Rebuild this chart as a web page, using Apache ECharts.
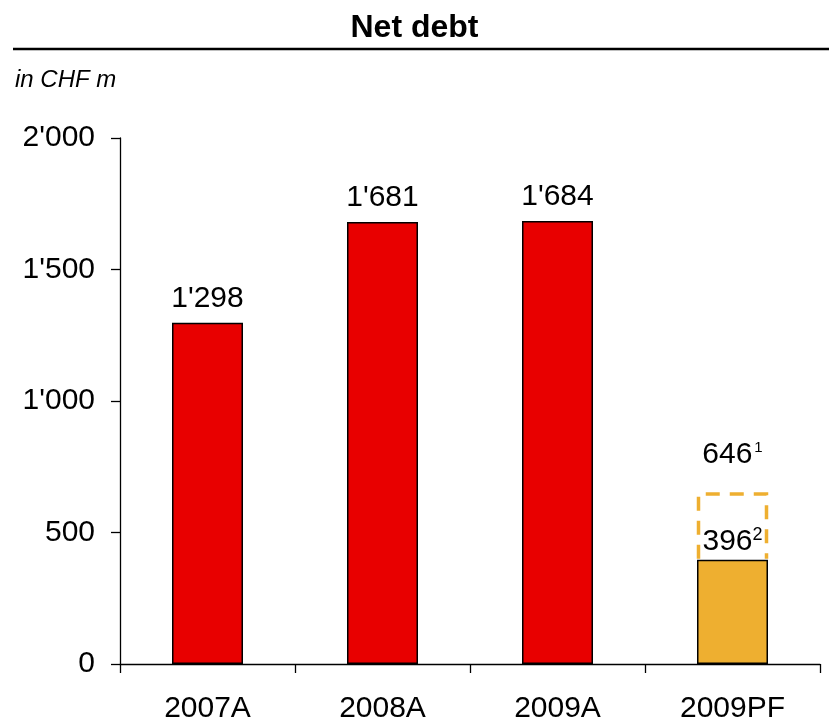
<!DOCTYPE html>
<html>
<head>
<meta charset="utf-8">
<script src="https://cdn.jsdelivr.net/npm/echarts@6/dist/echarts.min.js"></script>
<style>
  html, body { margin: 0; padding: 0; background: #fff; }
  #chart { width: 829px; height: 724px; }
</style>
</head>
<body>
<div id="chart"></div>
<script>
// Net debt, in CHF m
const categories = ['2007A', '2008A', '2009A', '2009PF'];
const netDebt = [1298, 1681, 1684, 396];
const proFormaTotal = [null, null, null, 646];
const labelNotes = ['', '', '', '2'];
const proFormaNote = '1';
const yTicks = [0, 500, 1000, 1500, 2000];

const RED = '#E80000';
const ORANGE = '#EEAF30';
const FONT = '"Liberation Sans", Arial, sans-serif';

function fmt(v) {
  return String(v).replace(/\B(?=(\d{3})+(?!\d))/g, "'");
}

const chart = echarts.init(document.getElementById('chart'), null, { renderer: 'canvas' });

// upper segment stacked on the 2009PF bar, reaching the pro-forma total
const dashedSegment = proFormaTotal.map((t, i) => (t == null ? '-' : t - netDebt[i]));
// [category index, base, total] for the dashed open outline
const outlineData = proFormaTotal
  .map((t, i) => (t == null ? null : [i, netDebt[i], t]))
  .filter(Boolean);

const BAR_W = 71;

chart.setOption({
  animation: false,
  textStyle: { fontFamily: FONT, color: '#000' },
  grid: { left: 120, right: 9, top: 138, bottom: 56, containLabel: false },
  graphic: [
    {
      type: 'text', left: 'center', top: 12,
      style: { text: 'Net debt', font: 'bold 32px ' + FONT, fill: '#000' }
    },
    {
      type: 'line', shape: { x1: 13, y1: 49, x2: 829, y2: 49 },
      style: { stroke: '#000', lineWidth: 2.5 }
    },
    {
      type: 'text', left: 15, top: 68,
      style: { text: 'in CHF m', font: 'italic 24px ' + FONT, fill: '#000' }
    }
  ],
  xAxis: {
    type: 'category',
    data: categories,
    boundaryGap: true,
    axisLine: { lineStyle: { color: '#000', width: 1.3 } },
    axisTick: { show: true, length: 9, lineStyle: { color: '#000', width: 1.3 } },
    axisLabel: { color: '#000', fontSize: 30, fontFamily: FONT, margin: 30 }
  },
  yAxis: {
    type: 'value',
    min: yTicks[0],
    max: yTicks[yTicks.length - 1],
    interval: 500,
    axisLine: { show: true, lineStyle: { color: '#000', width: 1.3 } },
    axisTick: { show: true, length: 9, lineStyle: { color: '#000', width: 1.3 } },
    splitLine: { show: false },
    axisLabel: { color: '#000', fontSize: 30, fontFamily: FONT, margin: 25, formatter: v => fmt(v) }
  },
  series: [
    {
      type: 'bar',
      stack: 'debt',
      barWidth: BAR_W,
      data: netDebt.map((v, i) => ({
        value: v,
        itemStyle: { color: i === 3 ? ORANGE : RED, borderColor: '#000', borderWidth: 1.5 },
        label: i === 3 ? { distance: 2 } : {}
      })),
      label: {
        show: true,
        position: 'top',
        distance: 9,
        fontFamily: FONT,
        formatter: p => {
          const note = labelNotes[p.dataIndex];
          return note ? '{v|' + fmt(p.value) + '}{s|' + note + '}' : '{v|' + fmt(p.value) + '}';
        },
        rich: {
          v: { fontSize: 30, color: '#000', fontFamily: FONT },
          s: { fontSize: 18, color: '#000', fontFamily: FONT, verticalAlign: 'top', padding: [0, 0, 14, 0] }
        }
      },
      z: 3
    },
    {
      // invisible stacked segment carrying the pro-forma total label
      type: 'bar',
      stack: 'debt',
      barWidth: BAR_W,
      data: dashedSegment,
      itemStyle: { color: 'rgba(0,0,0,0)' },
      label: {
        show: true,
        position: 'top',
        distance: 24,
        formatter: p => '{v|' + fmt(proFormaTotal[p.dataIndex]) + '}{s|' + proFormaNote + '}',
        rich: {
          v: { fontSize: 30, color: '#000', fontFamily: FONT },
          s: { fontSize: 15, color: '#000', fontFamily: FONT, verticalAlign: 'top', padding: [0, 0, 14, 2] }
        }
      },
      z: 2
    },
    {
      // dashed open outline from the bar top up to the pro-forma total
      type: 'custom',
      data: outlineData,
      encode: { x: 0, y: 2 },
      z: 4,
      renderItem: (params, api) => {
        const idx = api.value(0);
        const base = api.coord([idx, api.value(1)]);
        const top = api.coord([idx, api.value(2)]);
        const w = api.size([1, 0])[0] * 0 + BAR_W;
        const xl = base[0] - w / 2 + 1.5;
        const xr = base[0] + w / 2 - 1.5;
        return {
          type: 'polyline',
          shape: { points: [[xl, base[1] - 1], [xl, top[1]], [xr, top[1]], [xr, base[1] - 1]] },
          style: { fill: null, stroke: ORANGE, lineWidth: 3.5, lineDash: [14, 10] }
        };
      }
    }
  ]
});
</script>
</body>
</html>
